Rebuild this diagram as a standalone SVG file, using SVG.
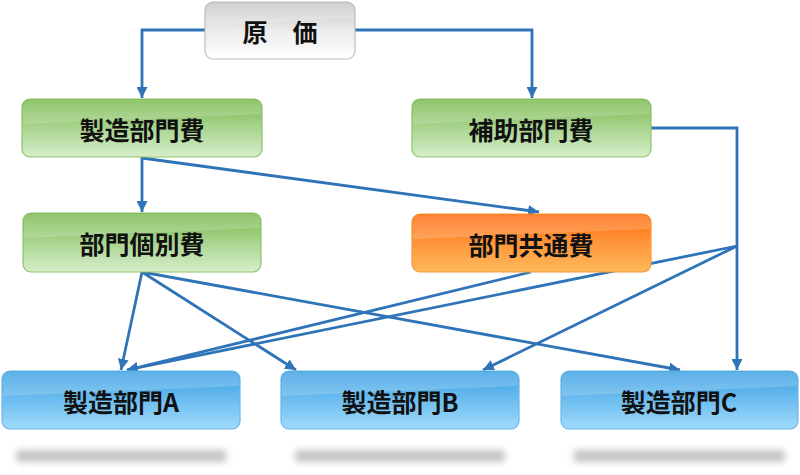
<svg xmlns="http://www.w3.org/2000/svg" width="800" height="475" viewBox="0 0 800 475">
<defs>
<style>
.lbl{font-family:"Noto Sans CJK JP","Noto Sans CJK SC",sans-serif;font-weight:bold;font-size:25px;fill:#111;text-anchor:middle;dominant-baseline:central}
.con{fill:none;stroke:#2f74b8;stroke-width:2.8;marker-end:url(#ah)}
.shine{fill:#fff;opacity:0.18}
</style>
<marker id="ah" viewBox="0 0 10 10" refX="10" refY="5" markerWidth="11" markerHeight="11" markerUnits="userSpaceOnUse" orient="auto">
<path d="M0,0 L10,5 L0,10 Z" fill="#2f74b8"/>
</marker>
<linearGradient id="gGray" x1="0" y1="0" x2="0" y2="1">
<stop offset="0" stop-color="#c4c4c4"/><stop offset="0.5" stop-color="#ececec"/><stop offset="1" stop-color="#ffffff"/>
</linearGradient>
<linearGradient id="gGreen" x1="0" y1="0" x2="0" y2="1">
<stop offset="0" stop-color="#77b84c"/><stop offset="0.5" stop-color="#a9d58e"/><stop offset="1" stop-color="#d6eecb"/>
</linearGradient>
<linearGradient id="gOrange" x1="0" y1="0" x2="0" y2="1">
<stop offset="0" stop-color="#ff690b"/><stop offset="0.5" stop-color="#ff963a"/><stop offset="1" stop-color="#ffb95c"/>
</linearGradient>
<linearGradient id="gBlue" x1="0" y1="0" x2="0" y2="1">
<stop offset="0" stop-color="#389fe3"/><stop offset="0.5" stop-color="#6dbdf0"/><stop offset="1" stop-color="#a0dbfc"/>
</linearGradient>
<filter id="blur" x="-20%" y="-200%" width="140%" height="500%"><feGaussianBlur stdDeviation="3.5"/></filter>
</defs>
<rect width="800" height="475" fill="#ffffff"/>
<g id="shadows" fill="#c4c4c4" filter="url(#blur)">
<rect x="15" y="450" width="212" height="12" rx="6"/>
<rect x="294" y="450" width="212" height="12" rx="6"/>
<rect x="573" y="450" width="213" height="12" rx="6"/>
</g>
<g id="connectors">
<path class="con" d="M205,30 H142 V98"/>
<path class="con" d="M355,30 H532 V98"/>
<path class="con" d="M142,157 V212"/>
<path class="con" d="M142,158 L539,212"/>
<path class="con" d="M651,128 H737 V370"/>
<path class="con" d="M737,246 L127,370"/>
<path class="con" d="M737,246 L483,370"/>
<path class="con" d="M531,272 L127,370"/>
<path class="con" d="M142,272 L121,370"/>
<path class="con" d="M142,272 L296,370"/>
<path class="con" d="M142,272 L680,370"/>
</g>
<g id="genka">
<rect x="205" y="2" width="150" height="57" rx="8" fill="url(#gGray)" stroke="#bcbcbc" stroke-width="1.2"/>
<path class="shine" d="M213,3 H347 Q354,3 354,10 V18 L206,26 V10 Q206,3 213,3 Z"/>
<text class="lbl" x="280" y="31">原　価</text>
</g>
<g id="seizo-bumonhi">
<rect x="22" y="99" width="240" height="58" rx="8" fill="url(#gGreen)" stroke="#8cc36a" stroke-width="1.2"/>
<path class="shine" d="M30,100 H254 Q261,100 261,107 V114 L23,124 V107 Q23,100 30,100 Z"/>
<text class="lbl" x="142" y="129">製造部門費</text>
</g>
<g id="hojo-bumonhi">
<rect x="412" y="99" width="239" height="58" rx="8" fill="url(#gGreen)" stroke="#8cc36a" stroke-width="1.2"/>
<path class="shine" d="M420,100 H643 Q650,100 650,107 V114 L413,124 V107 Q413,100 420,100 Z"/>
<text class="lbl" x="531" y="129">補助部門費</text>
</g>
<g id="bumon-kobetsuhi">
<rect x="23" y="213" width="238" height="59" rx="8" fill="url(#gGreen)" stroke="#8cc36a" stroke-width="1.2"/>
<path class="shine" d="M31,214 H253 Q260,214 260,221 V228 L24,238 V221 Q24,214 31,214 Z"/>
<text class="lbl" x="142" y="243">部門個別費</text>
</g>
<g id="bumon-kyotsuhi">
<rect x="412" y="214" width="239" height="58" rx="8" fill="url(#gOrange)" stroke="#f59a3c" stroke-width="1.2"/>
<path class="shine" d="M420,215 H643 Q650,215 650,222 V229 L413,239 V222 Q413,215 420,215 Z"/>
<text class="lbl" x="531" y="244">部門共通費</text>
</g>
<g id="seizo-bumon-a">
<rect x="2" y="371" width="238" height="58" rx="8" fill="url(#gBlue)" stroke="#6ab6e6" stroke-width="1.2"/>
<path class="shine" d="M10,372 H232 Q239,372 239,379 V386 L3,396 V379 Q3,372 10,372 Z"/>
<text class="lbl" x="121" y="401">製造部門A</text>
</g>
<g id="seizo-bumon-b">
<rect x="281" y="371" width="238" height="58" rx="8" fill="url(#gBlue)" stroke="#6ab6e6" stroke-width="1.2"/>
<path class="shine" d="M289,372 H511 Q518,372 518,379 V386 L282,396 V379 Q282,372 289,372 Z"/>
<text class="lbl" x="400" y="401">製造部門B</text>
</g>
<g id="seizo-bumon-c">
<rect x="561" y="371" width="237" height="58" rx="8" fill="url(#gBlue)" stroke="#6ab6e6" stroke-width="1.2"/>
<path class="shine" d="M569,372 H790 Q797,372 797,379 V386 L562,396 V379 Q562,372 569,372 Z"/>
<text class="lbl" x="679" y="401">製造部門C</text>
</g>
</svg>
